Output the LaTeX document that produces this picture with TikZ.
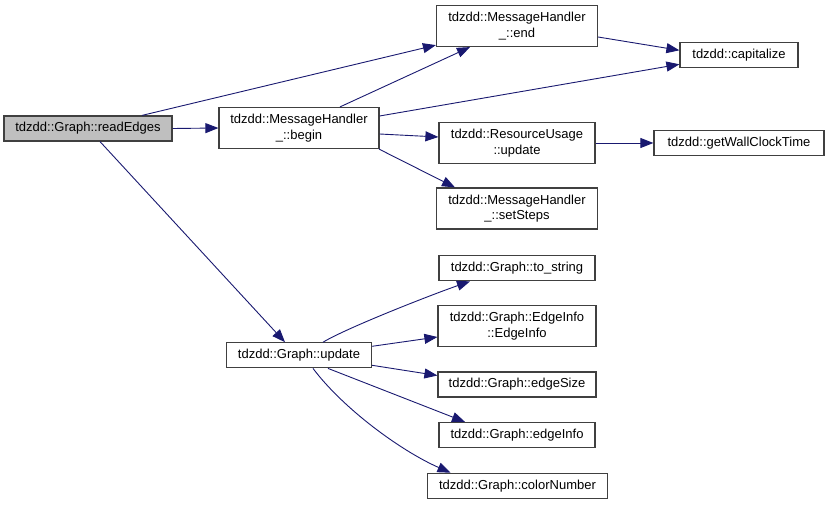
\documentclass[tikz,border=0pt]{standalone}
\usepackage{fontspec}
\setmainfont{Liberation Sans}
\usetikzlibrary{arrows.meta}
\definecolor{edgec}{HTML}{191970}
\definecolor{boxc}{HTML}{404040}
\tikzset{
  box/.style={draw=boxc, line width=1.2pt, fill=white, align=center, inner sep=0pt,
    font=\fontsize{13}{15.5}\selectfont, text=black},
  one/.style={minimum height=25pt},
  two/.style={minimum height=41pt},
  conn/.style={draw=edgec, line width=0.9pt, -{Triangle[length=13pt,width=10pt]}},
}
\begin{document}
\begin{tikzpicture}[x=1pt,y=-1pt]
\useasboundingbox (0,0) rectangle (829,505);
\node[box,one,minimum width=168pt,fill=black!25] (read) at (88,128.5) {tdzdd::Graph::readEdges};
\node[box,two,minimum width=160pt] (begin) at (299,128) {tdzdd::MessageHandler\\\_::begin};
\node[box,two,minimum width=161pt] (end) at (517,26) {tdzdd::MessageHandler\\\_::end};
\node[box,one,minimum width=118pt] (cap) at (739,55.3) {tdzdd::capitalize};
\node[box,two,minimum width=156pt] (ru) at (517,143) {tdzdd::ResourceUsage\\::update};
\node[box,one,minimum width=170pt] (wall) at (739,143) {tdzdd::getWallClockTime};
\node[box,two,minimum width=161pt] (steps) at (517,208.5) {tdzdd::MessageHandler\\\_::setSteps};
\node[box,one,minimum width=156pt] (tostr) at (517,268.3) {tdzdd::Graph::to\_string};
\node[box,two,minimum width=158pt] (einfoc) at (517,326) {tdzdd::Graph::EdgeInfo\\::EdgeInfo};
\node[box,one,minimum width=145pt] (upd) at (299,355.3) {tdzdd::Graph::update};
\node[box,one,minimum width=158pt] (esize) at (517,384.5) {tdzdd::Graph::edgeSize};
\node[box,one,minimum width=156pt] (einfo) at (517,435) {tdzdd::Graph::edgeInfo};
\node[box,one,minimum width=180pt] (color) at (517.5,485.8) {tdzdd::Graph::colorNumber};

\draw[conn] ([xshift=54pt]read.north) -- ([yshift=2pt]end.south west);
\draw[conn] (read.east) -- (begin.west);
\draw[conn] ([xshift=12pt]read.south) -- ([xshift=-14pt]upd.north);
\draw[conn] ([xshift=41pt]begin.north) -- ([xshift=-47pt]end.south);
\draw[conn] ([yshift=12pt]begin.east) -- ([yshift=-9pt]cap.west);
\draw[conn] ([yshift=-6pt]begin.east) -- ([yshift=6pt]ru.west);
\draw[conn] ([xshift=80pt]begin.south) -- ([xshift=-62pt]steps.north);
\draw[conn] ([yshift=-11pt]end.east) -- ([yshift=5pt]cap.west);
\draw[conn] (ru.east) -- (wall.west);
\draw[conn] ([xshift=24pt]upd.north) .. controls +(25,-15) and +(-35,12) .. ([xshift=-47pt]tostr.south);
\draw[conn] ([yshift=9pt]upd.east) -- ([yshift=-11pt]einfoc.west);
\draw[conn] ([yshift=-10pt]upd.east) -- ([yshift=9pt]esize.west);
\draw[conn] ([xshift=29pt]upd.south) -- ([xshift=-52pt]einfo.north);
\draw[conn] ([xshift=14pt]upd.south) .. controls +(30,40) and +(-50,-22) .. ([xshift=-67pt]color.north);
\end{tikzpicture}
\end{document}
